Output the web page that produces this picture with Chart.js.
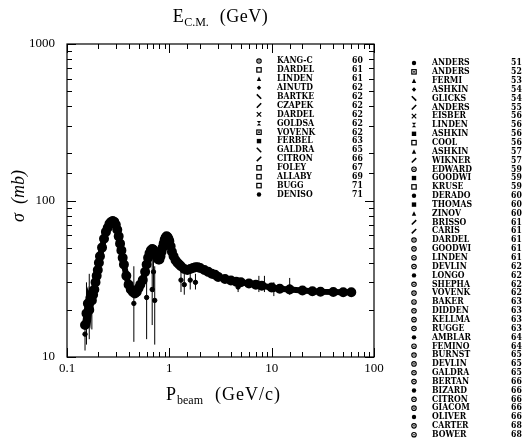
<!DOCTYPE html>
<html lang="en">
<head>
<meta charset="UTF-8">
<title>pi- p total cross section</title>
<script src="https://cdn.jsdelivr.net/npm/chart.js"></script>
<style>
  body { margin: 0; background: #fff; }
  #wrap { position: relative; width: 531px; height: 444px; }
</style>
</head>
<body>
<div id="wrap"><canvas id="xsec" width="531" height="444"></canvas></div>
<script>
// beam momentum (GeV/c) and total cross section (mb), the dense band
const pBeam = [0.150, 0.155, 0.160, 0.165, 0.170, 0.175, 0.180, 0.185, 0.190, 0.195,
  0.200, 0.205, 0.210, 0.220, 0.230, 0.240, 0.250, 0.260, 0.270, 0.280,
  0.290, 0.300, 0.310, 0.320, 0.330, 0.340, 0.350, 0.360, 0.380, 0.400,
  0.420, 0.440, 0.460, 0.480, 0.500, 0.520, 0.550, 0.580, 0.600, 0.620,
  0.640, 0.660, 0.680, 0.700, 0.720, 0.740, 0.760, 0.780, 0.800, 0.820,
  0.840, 0.860, 0.880, 0.900, 0.920, 0.940, 0.960, 0.980, 1.000, 1.030,
  1.060, 1.100, 1.150, 1.200, 1.250, 1.300, 1.400, 1.500, 1.600, 1.700,
  1.800, 1.900, 2.000, 2.200, 2.400, 2.600, 2.800, 3.000, 3.500, 4.000,
  4.500, 5.000, 6.000, 7.000, 8.000, 10.00, 12.00, 15.00, 20.00, 25.00,
  30.00, 40.00, 50.00, 60.00];
const sigma = [16, 19, 22, 20, 24, 23, 25, 27, 30, 33,
  36, 40, 44, 50, 57, 63, 67, 71, 73, 74,
  73, 70, 65, 59, 53, 48, 43, 39, 33, 29,
  27, 26, 25.5, 26, 27.5, 29, 31, 35, 39, 43,
  46, 48, 49, 48.5, 47, 45, 43, 42, 42, 44,
  47, 50, 53, 56, 58, 59, 58.5, 57, 55, 51,
  47, 44, 41.5, 40, 39, 38, 36.5, 36, 36.5, 37,
  37.5, 37.5, 37, 36, 35, 34, 33.5, 32.5, 31.5, 30.8,
  30.3, 30, 29.5, 29, 28.5, 27.8, 27.3, 27, 26.6, 26.3,
  26.1, 26, 25.9, 25.9];

// scattered measurements with their error bars
const pOdd   = [0.150, 0.155, 0.165, 0.175, 0.450, 0.600, 0.680, 0.700, 0.720, 1.300, 1.400, 1.600, 1.800, 4.700, 7.500, 8.500, 10.50, 15.00];
const sigOdd = [14, 18, 21, 23, 22, 24, 27, 35, 23, 31, 29, 31, 30, 28, 29, 28.5, 27, 28];
const sigLo  = [11, 12, 13, 15, 12.5, 13, 16, 26, 12, 26, 25, 27, 27, 26, 26, 26, 24.5, 25];
const sigHi  = [22, 30, 34, 28, 38, 40, 42, 48, 38, 36, 34, 35, 34, 31, 33, 33, 30, 32];

// experiments listed inside the frame
const insideNames  = ['KANG-C', 'DARDEL', 'LINDEN', 'AINUTD', 'BARTKE', 'CZAPEK', 'DARDEL', 'GOLDSA',
  'VOVENK', 'FERBEL', 'GALDRA', 'CITRON', 'FOLEY', 'ALLABY', 'BUGG', 'DENISO'];
const insideYears  = ['60', '61', '61', '62', '62', '62', '62', '62', '62', '63', '65', '66', '67', '69', '71', '71'];
const insideStyles = ['circleDot', 'rectOpen', 'triangle', 'rectRot', 'back', 'fwd', 'cross', 'hourglass',
  'rectDot', 'rect', 'back', 'fwd', 'rectOpen', 'rectOpen', 'rectOpen', 'circle'];

// experiments listed to the right of the frame
const listNames = ['ANDERS', 'ANDERS', 'FERMI', 'ASHKIN', 'GLICKS', 'ANDERS', 'EISBER', 'LINDEN', 'ASHKIN',
  'COOL', 'ASHKIN', 'WIKNER', 'EDWARD', 'GOODWI', 'KRUSE', 'DERADO', 'THOMAS', 'ZINOV', 'BRISSO',
  'CARIS', 'DARDEL', 'GOODWI', 'LINDEN', 'DEVLIN', 'LONGO', 'SHEPHA', 'VOVENK', 'BAKER', 'DIDDEN',
  'KELLMA', 'RUGGE', 'AMBLAR', 'FEMINO', 'BURNST', 'DEVLIN', 'GALDRA', 'BERTAN', 'BIZARD', 'CITRON',
  'GIACOM', 'OLIVER', 'CARTER', 'BOWER'];
const listYears = ['51', '52', '53', '54', '54', '55', '56', '56', '56', '56', '57', '57', '59', '59', '59',
  '60', '60', '60', '61', '61', '61', '61', '61', '62', '62', '62', '62', '63', '63', '63', '63',
  '64', '64', '65', '65', '65', '66', '66', '66', '66', '66', '68', '68'];
const listStyles = ['circle', 'rectDot', 'triangle', 'rectRot', 'back', 'fwd', 'cross', 'hourglass', 'rect',
  'rectOpen', 'triangle', 'fwd', 'circleDot', 'rect', 'rectOpen', 'circle', 'rect', 'triangle', 'fwd',
  'fwd', 'circleDot', 'circleDot', 'circleDot', 'circleDot', 'circle', 'circleDot', 'circleDot', 'circleDot',
  'circleDot', 'circleDot', 'circleDot', 'circle', 'circleDot', 'circleDot', 'circleDot', 'circleDot',
  'circleDot', 'circle', 'circleDot', 'circleDot', 'circle', 'circleDot', 'circleDot'];

const xTickLabels = ['0.1', '1', '10', '100'];
const yTickLabels = ['10', '100', '1000'];

const SERIF = '"Liberation Serif", "DejaVu Serif", serif';
const NAMEFONT = 'bold 9px "DejaVu Serif", serif';

// small marker symbols used in both experiment lists
function drawSymbol(ctx, kind, x, y) {
  const r = 2.2;
  ctx.save();
  ctx.fillStyle = '#000';
  ctx.strokeStyle = '#000';
  ctx.lineWidth = 1.2;
  ctx.beginPath();
  if (kind === 'circle') {
    ctx.arc(x, y, r, 0, Math.PI * 2); ctx.fill();
  } else if (kind === 'circleDot') {
    ctx.arc(x, y, r, 0, Math.PI * 2); ctx.stroke();
    ctx.beginPath(); ctx.arc(x, y, 0.8, 0, Math.PI * 2); ctx.fill();
  } else if (kind === 'rect') {
    ctx.fillRect(x - r, y - r, 2 * r, 2 * r);
  } else if (kind === 'rectOpen') {
    ctx.strokeRect(x - r, y - r, 2 * r, 2 * r);
  } else if (kind === 'rectDot') {
    ctx.strokeRect(x - r, y - r, 2 * r, 2 * r);
    ctx.fillRect(x - 0.8, y - 0.8, 1.6, 1.6);
  } else if (kind === 'triangle') {
    ctx.moveTo(x, y - r); ctx.lineTo(x + r, y + r); ctx.lineTo(x - r, y + r); ctx.closePath(); ctx.fill();
  } else if (kind === 'rectRot') {
    ctx.moveTo(x, y - r); ctx.lineTo(x + r, y); ctx.lineTo(x, y + r); ctx.lineTo(x - r, y); ctx.closePath(); ctx.fill();
  } else if (kind === 'back') {
    ctx.lineWidth = 1.6; ctx.moveTo(x - r, y - r); ctx.lineTo(x + r, y + r); ctx.stroke();
  } else if (kind === 'fwd') {
    ctx.lineWidth = 1.6; ctx.moveTo(x - r, y + r); ctx.lineTo(x + r, y - r); ctx.stroke();
  } else if (kind === 'cross') {
    ctx.moveTo(x - r, y - r); ctx.lineTo(x + r, y + r); ctx.moveTo(x - r, y + r); ctx.lineTo(x + r, y - r); ctx.stroke();
  } else if (kind === 'hourglass') {
    ctx.moveTo(x - r, y - r); ctx.lineTo(x + r, y - r); ctx.lineTo(x - r, y + r); ctx.lineTo(x + r, y + r); ctx.closePath(); ctx.fill();
  }
  ctx.restore();
}

// narrow bold name text, squeezed to the width of a typewriter face
function nameText(ctx, s, x, y) {
  ctx.save();
  ctx.translate(x, y);
  ctx.scale(0.86, 1);
  ctx.fillText(s, 0, 0);
  ctx.restore();
}

function isDecade(v) {
  const l = Math.log10(v);
  return Math.abs(l - Math.round(l)) < 1e-6;
}

// frame, inward ticks, error bars, axis titles and the two experiment lists
const decorations = {
  id: 'decorations',
  afterDatasetsDraw(chart) {
    const { ctx, chartArea: a, scales } = chart;
    const x = scales.x, y = scales.y;
    ctx.save();
    ctx.strokeStyle = '#000';
    ctx.lineWidth = 1;

    // error bars of the scattered points
    for (let i = 0; i < pOdd.length; i++) {
      const px = x.getPixelForValue(pOdd[i]);
      ctx.beginPath();
      ctx.moveTo(px, y.getPixelForValue(sigLo[i]));
      ctx.lineTo(px, y.getPixelForValue(sigHi[i]));
      ctx.stroke();
    }

    ctx.lineWidth = 1.2;
    ctx.strokeRect(a.left, a.top, a.right - a.left, a.bottom - a.top);
    ctx.lineWidth = 1;
    x.ticks.forEach(t => {
      const px = Math.round(x.getPixelForValue(t.value)) + 0.5;
      const len = isDecade(t.value) ? 9 : 5;
      ctx.beginPath();
      ctx.moveTo(px, a.bottom); ctx.lineTo(px, a.bottom - len);
      ctx.moveTo(px, a.top); ctx.lineTo(px, a.top + len);
      ctx.stroke();
    });
    y.ticks.forEach(t => {
      const py = Math.round(y.getPixelForValue(t.value)) + 0.5;
      const len = isDecade(t.value) ? 9 : 5;
      ctx.beginPath();
      ctx.moveTo(a.left, py); ctx.lineTo(a.left + len, py);
      ctx.moveTo(a.right, py); ctx.lineTo(a.right - len, py);
      ctx.stroke();
    });

    // axis titles with subscripts
    const cx = (a.left + a.right) / 2;
    ctx.fillStyle = '#000';
    ctx.textBaseline = 'alphabetic';
    const sub = (main, small, rest, xc, yb, spacing) => {
      ctx.letterSpacing = spacing;
      ctx.font = '18px ' + SERIF;
      const w1 = ctx.measureText(main).width;
      const w3 = ctx.measureText(rest).width;
      ctx.letterSpacing = '0px';
      ctx.font = '12px ' + SERIF;
      const w2 = ctx.measureText(small).width + 1;
      const x0 = xc - (w1 + w2 + w3) / 2;
      ctx.textAlign = 'left';
      ctx.fillText(small, x0 + w1, yb + 4);
      ctx.letterSpacing = spacing;
      ctx.font = '18px ' + SERIF;
      ctx.fillText(main, x0, yb);
      ctx.fillText(rest, x0 + w1 + w2, yb);
      ctx.letterSpacing = '0px';
    };
    sub('E', 'C.M.', '  (GeV)', cx, 22, '0.5px');
    sub('P', 'beam', '  (GeV/c)', cx + 3, 400, '1px');

    ctx.save();
    ctx.translate(24, 196);
    ctx.rotate(-Math.PI / 2);
    ctx.textAlign = 'center';
    ctx.font = 'italic 18px ' + SERIF;
    ctx.fillText('\u03c3  (mb)', 0, 0);
    ctx.restore();

    // experiment lists
    ctx.font = NAMEFONT;
    ctx.textAlign = 'left';
    ctx.textBaseline = 'middle';
    insideNames.forEach((n, i) => {
      const ry = 61 + i * 8.9;
      drawSymbol(ctx, insideStyles[i], 259, ry);
      nameText(ctx, n, 277, ry);
      nameText(ctx, insideYears[i], 352, ry);
    });
    listNames.forEach((n, i) => {
      const ry = 63 + i * 8.85;
      drawSymbol(ctx, listStyles[i], 414, ry);
      nameText(ctx, n, 432, ry);
      nameText(ctx, listYears[i], 511, ry);
    });
    ctx.restore();
  }
};

new Chart(document.getElementById('xsec'), {
  type: 'scatter',
  data: {
    datasets: [{
      data: pBeam.map((p, i) => ({ x: p, y: sigma[i] })),
      showLine: true,
      borderColor: '#000',
      borderWidth: 6,
      pointRadius: 2,
      pointBackgroundColor: '#000',
      pointBorderColor: '#000'
    }, {
      data: pOdd.map((p, i) => ({ x: p, y: sigOdd[i] })),
      showLine: false,
      pointRadius: 2.2,
      pointBackgroundColor: '#000',
      pointBorderColor: '#000'
    }]
  },
  options: {
    responsive: false,
    animation: false,
    devicePixelRatio: 1,
    layout: { padding: { left: 0, top: 44, right: 157, bottom: 65 } },
    plugins: { legend: { display: false }, tooltip: { enabled: false } },
    scales: {
      x: {
        type: 'logarithmic', min: 0.1, max: 100,
        grid: { display: false }, border: { display: false },
        ticks: {
          autoSkip: false, maxRotation: 0, color: '#000', padding: -4,
          font: { family: SERIF, size: 13 },
          callback: v => xTickLabels.includes(String(v)) ? String(v) : ''
        },
        afterFit: s => { s.height = 22; }
      },
      y: {
        type: 'logarithmic', min: 10, max: 1000,
        grid: { display: false }, border: { display: false },
        ticks: {
          autoSkip: false, color: '#000', padding: 4,
          font: { family: SERIF, size: 13 },
          callback: v => yTickLabels.includes(String(v)) ? String(v) : ''
        },
        afterFit: s => { s.width = 67; }
      }
    }
  },
  plugins: [decorations]
});
</script>
</body>
</html>
